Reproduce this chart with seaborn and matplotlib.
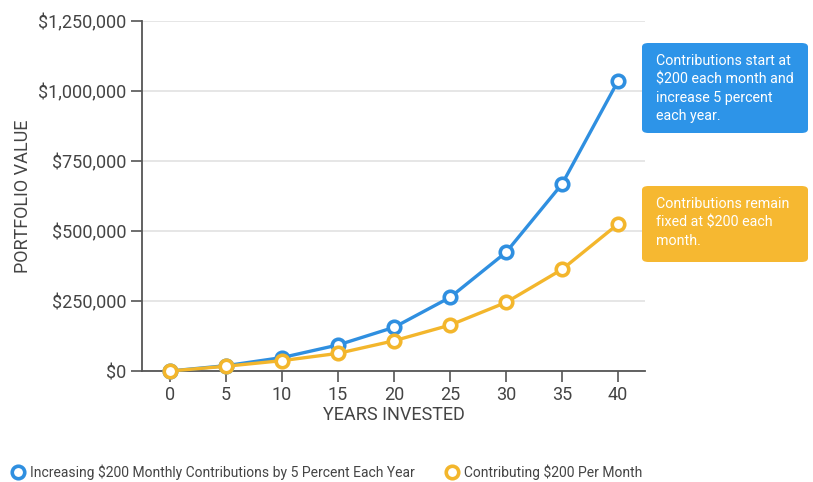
import matplotlib
matplotlib.use("Agg")
import matplotlib.pyplot as plt
import seaborn as sns
import pandas as pd
from matplotlib.patches import FancyBboxPatch
from matplotlib.lines import Line2D
from matplotlib.ticker import FuncFormatter

years = [0, 5, 10, 15, 20, 25, 30, 35, 40]
increasing = [0, 19000, 48000, 93000, 156000, 263000, 424000, 668000, 1036000]
fixed = [0, 17000, 37000, 63000, 108000, 164000, 245000, 363000, 525000]
series_names = ["Increasing $200 Monthly Contributions by 5 Percent Each Year",
                "Contributing $200 Per Month"]
y_ticks = [0, 250000, 500000, 750000, 1000000, 1250000]
x_ticks = years
box_texts = ["Contributions start at\n$200 each month and\nincrease 5 percent\neach year.",
             "Contributions remain\nfixed at $200 each\nmonth."]

BLUE = "#2f8fe0"
YELLOW = "#f3b62c"
BOX_BLUE = "#2d94e8"
BOX_YELLOW = "#f6b831"
TXT = "#444444"

sns.set_style("white")
plt.rcParams["font.family"] = ["Roboto", "DejaVu Sans"]

W, H = 813, 482
fig = plt.figure(figsize=(W / 100, H / 100), dpi=100)
ax = fig.add_axes([142 / W, (H - 371) / H, (645 - 142) / W, (371 - 21) / H])

df_inc = pd.DataFrame({"Years": years, "Value": increasing})
df_fix = pd.DataFrame({"Years": years, "Value": fixed})

ax.yaxis.grid(True, color="#e4e4e4", linewidth=1.3, zorder=0)
ax.set_axisbelow(True)

for df, col in [(df_inc, BLUE), (df_fix, YELLOW)]:
    sns.lineplot(data=df, x="Years", y="Value", ax=ax, color=col, linewidth=2.4,
                 marker="o", markersize=9, markerfacecolor="white",
                 markeredgecolor=col, markeredgewidth=2.6, clip_on=False, zorder=3)

ax.set_xlim(-2.5, 42.4)
ax.set_ylim(0, 1250000)
ax.set_xticks(x_ticks)
ax.set_yticks(y_ticks)
ax.yaxis.set_major_formatter(FuncFormatter(lambda v, p: "${:,.0f}".format(v)))
ax.tick_params(axis="both", which="both", length=8, width=1.2, color="#555555",
               labelsize=13, labelcolor=TXT, pad=3, direction="out",
               bottom=True, left=True)
for s in ["top", "right"]:
    ax.spines[s].set_visible(False)
for s in ["left", "bottom"]:
    ax.spines[s].set_color("#555555")
    ax.spines[s].set_linewidth(1.3)

ax.set_xlabel("YEARS INVESTED", fontsize=13, color=TXT, labelpad=1)
ax.set_ylabel("PORTFOLIO VALUE", fontsize=13, color=TXT, labelpad=5)

# annotation boxes
def fig_box(x0, y0, x1, y1, color, text):
    p = FancyBboxPatch((x0 / W, 1 - y1 / H), (x1 - x0) / W, (y1 - y0) / H,
                       boxstyle="round,pad=0,rounding_size=0.008",
                       transform=fig.transFigure, facecolor=color,
                       edgecolor="none", zorder=5)
    fig.patches.append(p)
    fig.text((x0 + 14) / W, 1 - (y0 + 11) / H, text, color="white", fontsize=10.3,
             va="top", ha="left", linespacing=1.4, zorder=6)

fig_box(642, 43, 808, 133, BOX_BLUE, box_texts[0])
fig_box(642, 186, 808, 262, BOX_YELLOW, box_texts[1])

handles = [Line2D([], [], color=c, marker="o", linestyle="none", markersize=9,
                  markerfacecolor="white", markeredgecolor=c, markeredgewidth=2.6)
           for c in (BLUE, YELLOW)]
fig.legend(handles, series_names, loc="center left", bbox_to_anchor=(4 / W, 1 - 472 / H),
           ncol=2, frameon=False, fontsize=10, labelcolor=TXT, handletextpad=0.25,
           columnspacing=2.1, handlelength=1.2, borderaxespad=0)

fig.savefig("out.png", dpi=100)
